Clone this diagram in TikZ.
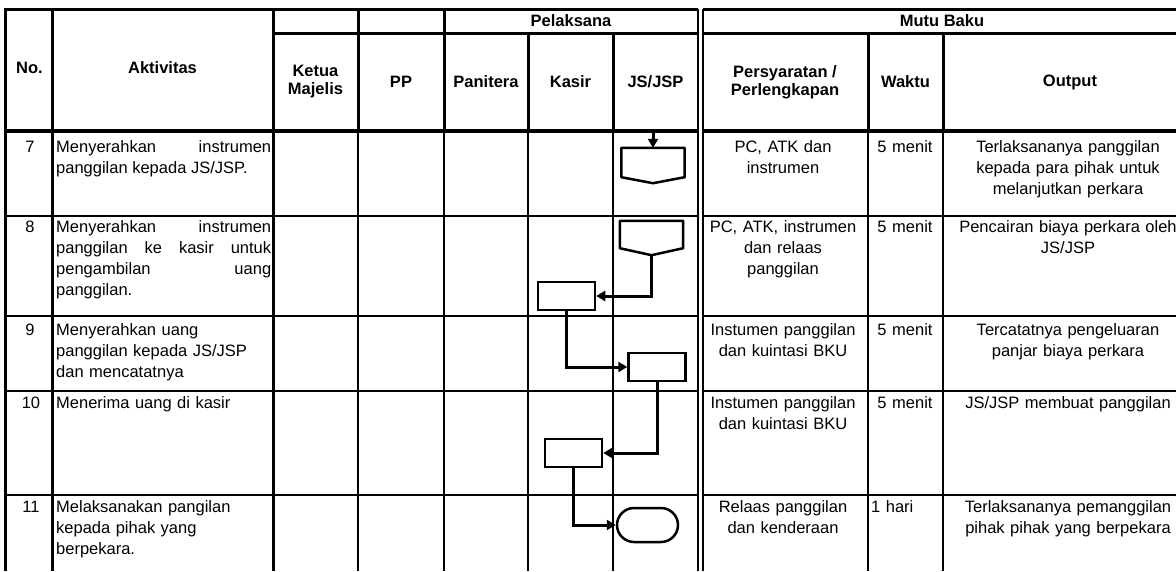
\documentclass[tikz,border=0pt]{standalone}
\usepackage{fontspec}
\setmainfont{Liberation Sans}
\usetikzlibrary{arrows.meta}

\tikzstyle{hdr} = [font=\bfseries\fontsize{16.5}{18}\selectfont, align=center, inner sep=0pt]
\tikzstyle{cell} = [font=\fontsize{16.5}{21}\selectfont, inner sep=0pt]
\tikzstyle{cellmid} = [cell, text width=235pt, align=center, anchor=base]
\tikzstyle{cellleft} = [cell, text width=215pt, align=left, anchor=base west]
\tikzstyle{celljust} = [cell, text width=215pt, align=justify, anchor=base west]
\tikzstyle{rulethick} = [line width=3pt]
\tikzstyle{rulethin} = [line width=2pt]
\tikzstyle{process} = [rectangle, draw=black, line width=2.5pt, minimum width=57pt, minimum height=28pt, inner sep=0pt]
\tikzstyle{offpage} = [rectangle, minimum width=63pt, inner sep=0pt]
\tikzstyle{terminal} = [rectangle, rounded corners=17pt, draw=black, line width=2.5pt, minimum width=61pt, minimum height=34pt, inner sep=0pt]
\tikzstyle{arrow} = [line width=3pt, -{Triangle[length=9pt,width=10pt]}]

\begin{document}
\begin{tikzpicture}[x=1pt, y=-1pt]
\useasboundingbox (0,0) rectangle (1176,571);

% header lines
\draw [rulethick] (5,9) -- (698,9);
\draw [rulethick] (703,9) -- (1176,9);
\draw [rulethick] (273,33) -- (698,33);
\draw [rulethick] (703,33) -- (1176,33);
\draw [line width=4pt] (5,131) -- (698,131);
\draw [line width=4pt] (703,131) -- (1176,131);
\draw [rulethick] (5,7.5) -- (5,571);
\draw [rulethick] (52,9) -- (52,571);
\draw [rulethick] (273,9) -- (273,571);
\draw [rulethick] (358,9) -- (358,131) (444,9) -- (444,131) (528,33) -- (528,131) (613,33) -- (613,131);
\draw [rulethick] (868,33) -- (868,131) (943,33) -- (943,131);
\draw [rulethin] (358,131) -- (358,571) (444,131) -- (444,571) (528,131) -- (528,571) (613,131) -- (613,571);
\draw [rulethin] (868,131) -- (868,571) (943,131) -- (943,571);
\draw [rulethin] (698,9) -- (698,571) (703,9) -- (703,571);

% row lines
\draw [rulethin] (5,216) -- (698,216) (703,216) -- (1176,216);
\draw [rulethin] (5,316) -- (698,316) (703,316) -- (1176,316);
\draw [rulethin] (5,391) -- (698,391) (703,391) -- (1176,391);
\draw [rulethin] (5,495) -- (698,495) (703,495) -- (1176,495);

% header
\node (noHead) [hdr] at (29.5,68) {No.};
\node (aktivitasHead) [hdr] at (162.5,68) {Aktivitas};
\node (ketuaHead) [hdr] at (315.5,82) {Ketua\\Majelis};
\node (ppHead) [hdr] at (401,82) {PP};
\node (pelaksanaHead) [hdr] at (571,21) {Pelaksana};
\node (paniteraHead) [hdr] at (486,82) {Panitera};
\node (kasirHead) [hdr] at (570.5,82) {Kasir};
\node (jspHead) [hdr] at (655.5,82) {JS/JSP};
\node (mutuHead) [hdr] at (942,21) {Mutu Baku};
\node (syaratHead) [hdr] at (785,82) {Persyaratan /\\Perlengkapan};
\node (waktuHead) [hdr] at (905.5,82) {Waktu};
\node (outputHead) [hdr] at (1070,82) {Output};

% rows
\node (no7) [cellmid] at (30,152) {7};
\node (aktivitas7) [celljust] at (56,152) {Menyerahkan instrumen\linebreak panggilan kepada JS/JSP.};
\node (syarat7) [cellmid] at (783,152) {PC, ATK dan\\instrumen};
\node (waktu7) [cellmid] at (905,152) {5 menit};
\node (output7) [cellmid] at (1068,152) {Terlaksananya panggilan\\kepada para pihak untuk\\melanjutkan perkara};

\node (no8) [cellmid] at (30,232) {8};
\node (aktivitas8) [celljust] at (56,232) {Menyerahkan instrumen\linebreak panggilan ke kasir untuk\linebreak pengambilan uang\linebreak panggilan.};
\node (syarat8) [cellmid] at (783,232) {PC, ATK, instrumen\\dan relaas\\panggilan};
\node (waktu8) [cellmid] at (905,232) {5 menit};
\node (output8) [cellmid] at (1068,232) {Pencairan biaya perkara oleh\\JS/JSP};

\node (no9) [cellmid] at (30,335) {9};
\node (aktivitas9) [cellleft] at (56,335) {Menyerahkan uang\\panggilan kepada JS/JSP\\dan mencatatnya};
\node (syarat9) [cellmid] at (783,335) {Instumen panggilan\\dan kuintasi BKU};
\node (waktu9) [cellmid] at (905,335) {5 menit};
\node (output9) [cellmid] at (1068,335) {Tercatatnya pengeluaran\\panjar biaya perkara};

\node (no10) [cellmid] at (31,408) {10};
\node (aktivitas10) [cellleft] at (56,408) {Menerima uang di kasir};
\node (syarat10) [cellmid] at (783,408) {Instumen panggilan\\dan kuintasi BKU};
\node (waktu10) [cellmid] at (905,408) {5 menit};
\node (output10) [cellmid] at (1068,408) {JS/JSP membuat panggilan};

\node (no11) [cellmid] at (31,512) {11};
\node (aktivitas11) [cellleft] at (56,512) {Melaksanakan pangilan\\kepada pihak yang\\berpekara.};
\node (syarat11) [cellmid] at (783,512) {Relaas panggilan\\dan kenderaan};
\node (waktu11) [cellleft] at (871,512) {1 hari};
\node (output11) [cellmid] at (1068,512) {Terlaksananya pemanggilan\\pihak pihak yang berpekara};

% flow
\node (kirim7) [offpage, minimum height=35pt] at (653,165.5) {};
\node (kirim8) [offpage, minimum height=34pt] at (651.5,238) {};
\node (kasir8) [process] at (566.5,296) {};
\node (jsp9) [process] at (657,367) {};
\node (kasir10) [process] at (573.5,453) {};
\node (selesai11) [terminal] at (647.5,525) {};
\coordinate (masuk7) at (653,133);

\draw [line width=2.5pt, line join=round] (kirim7.north west) -- (kirim7.north east) -- ([yshift=6pt]kirim7.south east) -- (kirim7.south) -- ([yshift=6pt]kirim7.south west) -- cycle;
\draw [line width=2.5pt, line join=round] (kirim8.north west) -- (kirim8.north east) -- ([yshift=7pt]kirim8.south east) -- (kirim8.south) -- ([yshift=7pt]kirim8.south west) -- cycle;

\draw [arrow] (masuk7) -- (kirim7.north);
\draw [arrow] (kirim8.south) |- (kasir8.east);
\draw [arrow] (kasir8.south) |- (jsp9.west);
\draw [arrow] (jsp9.south) |- (kasir10.east);
\draw [arrow] (kasir10.south) |- (selesai11.west);

\end{tikzpicture}
\end{document}
